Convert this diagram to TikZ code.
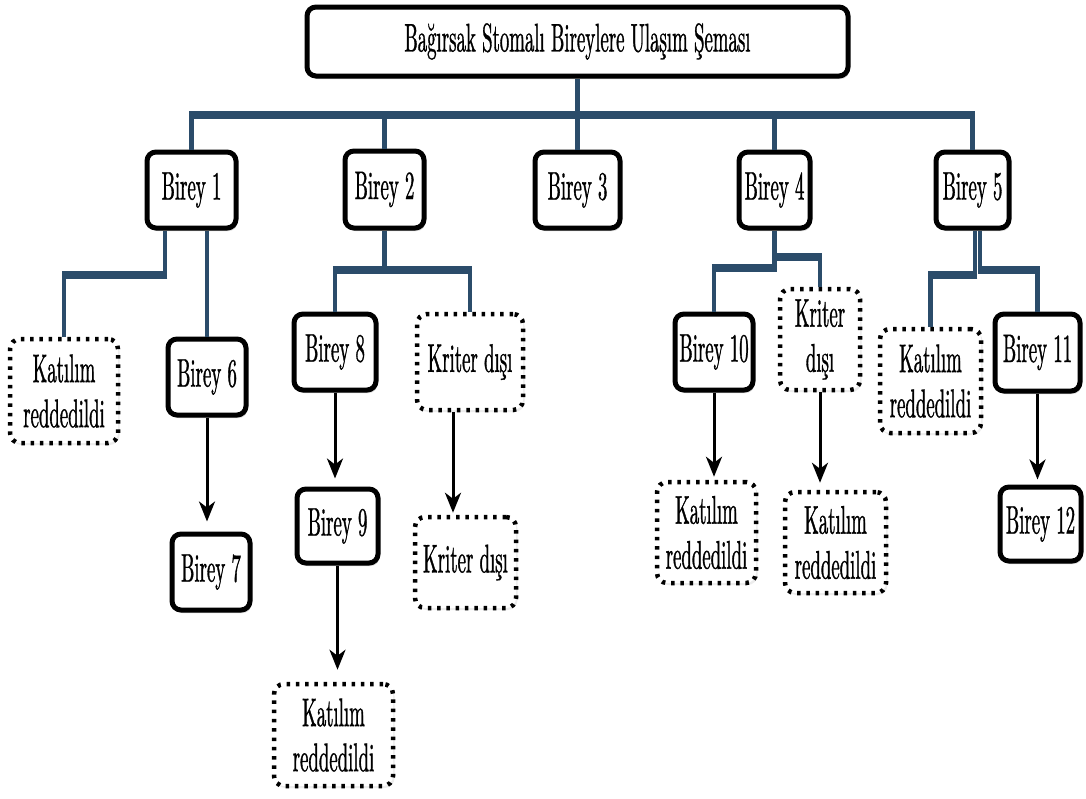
\documentclass[tikz,border=0pt]{standalone}
\usepackage{fontspec}
\setmainfont{lmroman10-regular.otf}[FakeStretch=0.47,FakeBold=0.8]
\usetikzlibrary{arrows.meta,shadows,calc}
\definecolor{conn}{RGB}{43,76,106}
\begin{document}
\begin{tikzpicture}[x=1pt,y=-1pt,
 every node/.style={font=\fontsize{40}{45}\selectfont, align=center, inner sep=0pt},
 solidbox/.style={draw=black, line width=5pt, rounded corners=9pt, fill=white,
   drop shadow={shadow xshift=1.5pt, shadow yshift=-3pt, opacity=0.35}},
 dotbox/.style={draw=black, line width=4.5pt, dash pattern=on 3.5pt off 5.8pt, rounded corners=10pt, fill=white,
   drop shadow={shadow xshift=1.5pt, shadow yshift=-2pt, opacity=0.15}},
 vl/.style={draw=conn, line width=4.5pt},
 hl/.style={draw=conn, line width=8.5pt, shorten <=-2.25pt, shorten >=-2.25pt},
 arr/.style={draw=black, line width=3pt, -{Stealth[length=20pt,width=16pt,inset=6pt]}},
]
\useasboundingbox[fill=white] (0,0) rectangle (1086,798);

% nodes
\node[solidbox, minimum width=541pt, minimum height=69pt] (title) at (577.5,41.5) {Bağırsak Stomalı Bireylere Ulaşım Şeması};
\node[solidbox, minimum width=89pt, minimum height=76pt] (b1) at (191.5,190) {Birey 1};
\node[solidbox, minimum width=79pt, minimum height=77pt] (b2) at (384.5,189.5) {Birey 2};
\node[solidbox, minimum width=85pt, minimum height=76pt] (b3) at (577.5,190) {Birey 3};
\node[solidbox, minimum width=71pt, minimum height=76pt] (b4) at (774.5,190) {Birey 4};
\node[solidbox, minimum width=73pt, minimum height=76pt] (b5) at (972.5,190) {Birey 5};

\node[dotbox, minimum width=108pt, minimum height=104pt] (k1) at (64,391) {Katılım\\reddedildi};
\node[solidbox, minimum width=78pt, minimum height=76pt] (b6) at (207,377) {Birey 6};
\node[solidbox, minimum width=78pt, minimum height=76pt] (b7) at (211,572) {Birey 7};

\node[solidbox, minimum width=82pt, minimum height=76pt] (b8) at (335,352) {Birey 8};
\node[dotbox, minimum width=106pt, minimum height=96pt] (kd1) at (470,362) {Kriter dışı};
\node[solidbox, minimum width=81pt, minimum height=74pt] (b9) at (337.5,526) {Birey 9};
\node[dotbox, minimum width=101pt, minimum height=91pt] (kd2) at (465.5,562.5) {Kriter dışı};
\node[dotbox, minimum width=119pt, minimum height=102pt] (k9) at (333.5,735) {Katılım\\reddedildi};

\node[solidbox, minimum width=78pt, minimum height=76pt] (b10) at (714,352) {Birey 10};
\node[dotbox, minimum width=80pt, minimum height=101pt] (kd3) at (820,339.5) {Kriter\\dışı};
\node[dotbox, minimum width=99pt, minimum height=101pt] (k10) at (706.5,532.5) {Katılım\\reddedildi};
\node[dotbox, minimum width=101pt, minimum height=101pt] (k4) at (835.5,542.5) {Katılım\\reddedildi};

\node[dotbox, minimum width=101pt, minimum height=104pt] (k5) at (930.5,381) {Katılım\\reddedildi};
\node[solidbox, minimum width=85pt, minimum height=77pt] (b11) at (1037.5,352.5) {Birey 11};
\node[solidbox, minimum width=81pt, minimum height=74pt] (b12) at (1040.5,524) {Birey 12};

% top bus
\coordinate (bus) at (577.5,115);
\draw[vl] (title.south) -- (bus);
\draw[hl] (b1.north |- bus) -- (b5.north |- bus);
\foreach \b in {b1,b2,b3,b4,b5} {\draw[vl] (\b.north |- bus) -- (\b.north);}

% Birey 1 branches
\coordinate (j1) at (165,275);
\draw[vl] (b1.south -| j1) -- (j1);
\draw[hl] (j1) -- (j1 -| k1.north);
\draw[vl] (j1 -| k1.north) -- (k1.north);
\draw[vl] (b1.south -| b6.north) -- (b6.north);

% Birey 2 branches
\coordinate (j2) at (384.5,270);
\draw[vl] (b2.south) -- (j2);
\draw[hl] (b8.north |- j2) -- (kd1.north |- j2);
\draw[vl] (b8.north |- j2) -- (b8.north);
\draw[vl] (kd1.north |- j2) -- (kd1.north);

% Birey 4 branches
\coordinate (j4a) at (774.5,268);
\coordinate (j4b) at (774.5,257);
\draw[vl] (b4.south) -- (j4a);
\draw[hl] (b10.north |- j4a) -- (j4a);
\draw[vl] (b10.north |- j4a) -- (b10.north);
\draw[hl] (j4b) -- (kd3.north |- j4b);
\draw[vl] (kd3.north |- j4b) -- (kd3.north);

% Birey 5 branches
\coordinate (j5a) at (975,275);
\coordinate (j5b) at (980,270);
\draw[vl] (b5.south -| j5a) -- (j5a);
\draw[hl] (j5a) -- (j5a -| k5.north);
\draw[vl] (j5a -| k5.north) -- (k5.north);
\draw[vl] (b5.south -| j5b) -- (j5b);
\draw[hl] (j5b) -- (j5b -| b11.north);
\draw[vl] (j5b -| b11.north) -- (b11.north);

% arrows
\draw[arr, shorten >=10pt] (b6.south) -- (b6.south |- b7.north);
\draw[arr, shorten >=8pt] (b8.south) -- (b8.south |- b9.north);
\draw[arr, shorten >=2pt] ([xshift=-17pt]kd1.south) -- ([xshift=-17pt]kd1.south |- kd2.north);
\draw[arr, shorten >=12pt] (b9.south) -- (b9.south |- k9.north);
\draw[arr, shorten >=3pt] (b10.south) -- (b10.south |- k10.north);
\draw[arr, shorten >=7pt] (kd3.south) -- (kd3.south |- k4.north);
\draw[arr, shorten >=5pt] (b11.south) -- (b11.south |- b12.north);
\end{tikzpicture}
\end{document}
